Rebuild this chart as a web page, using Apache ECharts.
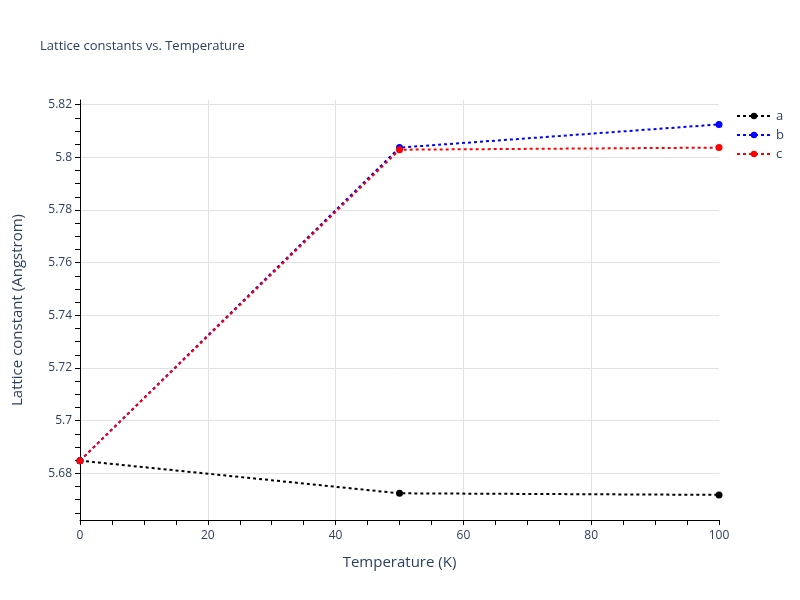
<!DOCTYPE html>
<html><head><meta charset="utf-8">
<script src="https://cdn.jsdelivr.net/npm/echarts@6/dist/echarts.min.js"></script>
<style>html,body{margin:0;padding:0;background:#fff}#c{width:800px;height:600px}</style>
</head><body><div id="c"></div>
<script>
const temperatures = [0, 50, 100];
const aValues = [5.6848, 5.6724, 5.6718];
const bValues = [5.6848, 5.8037, 5.8125];
const cValues = [5.6848, 5.8029, 5.8037];
const yLabelValues = [5.68, 5.70, 5.72, 5.74, 5.76, 5.78, 5.80, 5.82];
const yMinorTickValues = [5.665,5.67,5.675,5.68,5.685,5.69,5.695,5.70,5.705,5.71,5.715,5.72,5.725,5.73,5.735,5.74,5.745,5.75,5.755,5.76,5.765,5.77,5.775,5.78,5.785,5.79,5.795,5.80,5.805,5.81,5.815,5.82];
const yMin = 5.66226, yMax = 5.82178;

const font = '"Open Sans", verdana, arial, sans-serif';
const txt = '#2a3f5f';
const grid = '#e2e2e2';

function mk(name, data, color) {
  return {
    name, type: 'line', data: temperatures.map((t, i) => [t, data[i]]),
    yAxisIndex: 0,
    symbol: 'circle', symbolSize: 7,
    itemStyle: { color },
    lineStyle: { color, width: 2, type: [3, 3] },
    emphasis: { disabled: true }, animation: false
  };
}
const chart = echarts.init(document.getElementById('c'), null, { renderer: 'canvas' });
chart.setOption({
  animation: false,
  title: { text: 'Lattice constants vs. Temperature', left: 35, top: 35,
    textStyle: { fontFamily: font, fontSize: 13, fontWeight: 'normal', color: txt } },
  legend: { orient: 'vertical', left: 731, top: 104, itemGap: 5, itemWidth: 34, itemHeight: 8,
    textStyle: { fontFamily: font, fontSize: 13, lineHeight: 14, color: txt }, data: ['a', 'b', 'c'] },
  grid: { left: 80, right: 81, top: 100, bottom: 80, containLabel: false },
  xAxis: {
    type: 'value', min: 0, max: 100, interval: 20,
    name: 'Temperature (K)', nameLocation: 'middle', nameGap: 35,
    nameTextStyle: { fontFamily: font, fontSize: 15, color: txt },
    axisLine: { show: true, onZero: false, lineStyle: { color: '#000', width: 1 } },
    axisTick: { show: true, length: 5, lineStyle: { color: '#000' } },
    minorTick: { show: true, splitNumber: 4, length: 5, lineStyle: { color: '#000' } },
    axisLabel: { fontFamily: font, fontSize: 12, color: txt, margin: 10 },
    splitLine: { show: true, showMinLine: false, showMaxLine: false, lineStyle: { color: grid, width: 1 } }
  },
  yAxis: [{
    type: 'value', min: yMin, max: yMax, minInterval: 0.02, maxInterval: 0.02,
    position: 'left',
    name: 'Lattice constant (Angstrom)', nameLocation: 'middle', nameGap: 55,
    nameTextStyle: { fontFamily: font, fontSize: 15, color: txt },
    axisLine: { show: true, onZero: false, lineStyle: { color: '#000', width: 1 } },
    axisTick: { show: false },
    axisLabel: { fontFamily: font, fontSize: 12, color: txt, margin: 8,
      customValues: yLabelValues,
      formatter: v => String(parseFloat(v.toFixed(3))) },
    splitLine: { show: true, showMinLine: false, showMaxLine: false, lineStyle: { color: grid, width: 1 } }
  }, {
    type: 'value', min: yMin, max: yMax, minInterval: 0.005, maxInterval: 0.005,
    position: 'left',
    axisLine: { show: false, onZero: false },
    axisTick: { show: true, length: 5, customValues: yMinorTickValues, lineStyle: { color: '#000' } },
    axisLabel: { show: false },
    splitLine: { show: false }
  }],
  series: [mk('a', aValues, '#000000'), mk('b', bValues, '#0000ff'), mk('c', cValues, '#ff0000')]
});
</script></body></html>
